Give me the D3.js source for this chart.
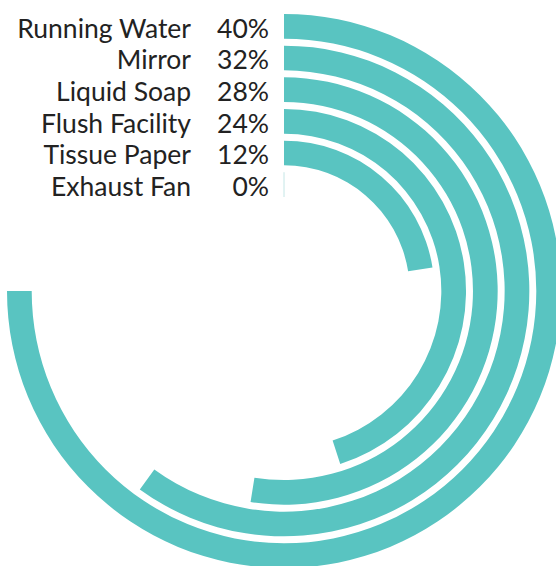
<!DOCTYPE html>
<html><head><meta charset="utf-8">
<script src="https://cdn.jsdelivr.net/npm/d3@7"></script>
<style>body{margin:0;background:#fff}svg{display:block}</style>
</head><body>
<svg id="c" width="556" height="566"></svg>
<script>
const categories = ["Running Water","Mirror","Liquid Soap","Flush Facility","Tissue Paper","Exhaust Fan"];
const values = [40,32,28,24,12,0];
const valueLabels = ["40%","32%","28%","24%","12%","0%"];

const svg = d3.select("#c");
const cx = 284, cy = 291, outerR = 277, innerR = 94;
const g = svg.append("g").attr("transform", `translate(${cx},${cy})`);

const y = d3.scaleBand().domain(categories).range([innerR, outerR]).paddingInner(0.22);
// outermost ring = first category
const yr = c => y(categories[categories.length - 1 - categories.indexOf(c)]);
const a = d3.scaleLinear().domain([0, 40]).range([0, 1.5*Math.PI]);

const arc = d3.arc()
  .innerRadius(d => yr(d.c))
  .outerRadius(d => yr(d.c) + y.bandwidth())
  .startAngle(0)
  .endAngle(d => a(d.v));

const data = categories.map((c,i)=>({c, v: values[i], l: valueLabels[i]}));

g.selectAll("path.bar").data(data).join("path")
  .attr("class","bar")
  .attr("d", arc)
  .attr("fill","#59c4c1")
  .attr("stroke", d => d.v === 0 ? "#d8eeee" : "none")
  .attr("stroke-width", 1);

const fs = 26.5;
g.selectAll("text.cat").data(data).join("text")
  .attr("class","cat")
  .attr("x", 191 - cx)
  .attr("y", d => -(yr(d.c) + y.bandwidth()/2))
  .attr("dy","0.43em")
  .attr("text-anchor","end")
  .attr("font-family","Lato, sans-serif")
  .attr("font-size", fs)
  .attr("fill","#222")
  .text(d => d.c);

g.selectAll("text.val").data(data).join("text")
  .attr("class","val")
  .attr("x", 269 - cx)
  .attr("y", d => -(yr(d.c) + y.bandwidth()/2))
  .attr("dy","0.43em")
  .attr("text-anchor","end")
  .attr("font-family","Lato, sans-serif")
  .attr("font-size", fs)
  .attr("fill","#222")
  .text(d => d.l);
</script>
</body></html>
